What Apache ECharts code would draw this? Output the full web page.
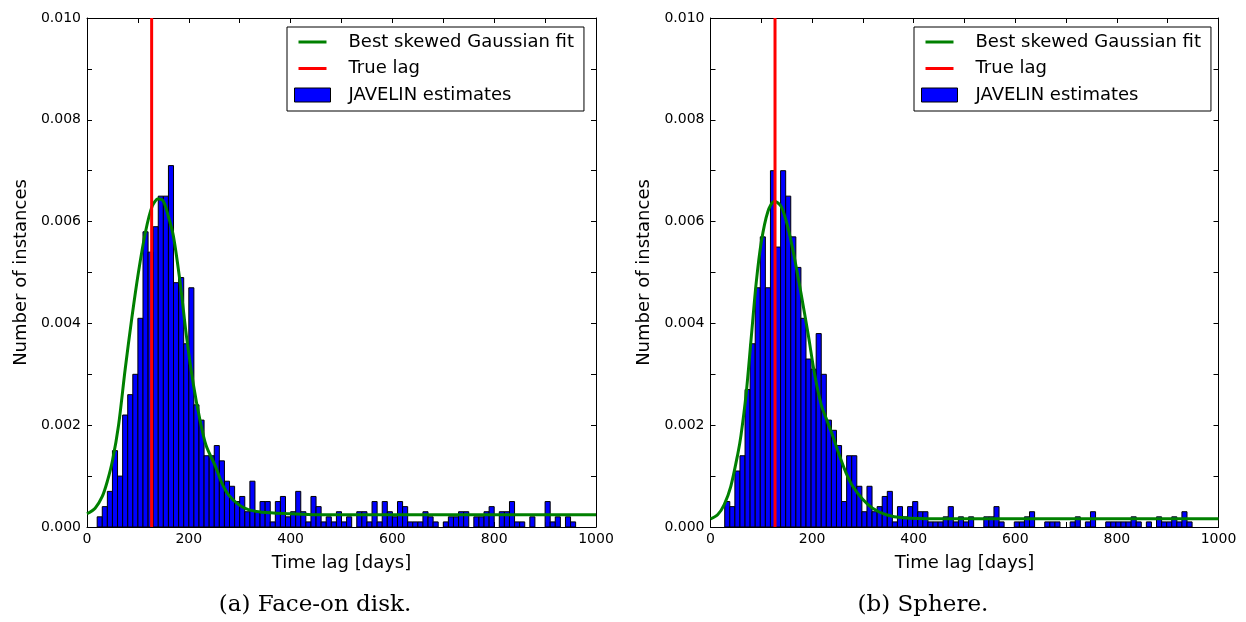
<!DOCTYPE html>
<html>
<head>
<meta charset="utf-8">
<script src="https://cdn.jsdelivr.net/npm/echarts@6/dist/echarts.min.js"></script>
<style>
  html, body { margin: 0; background: #fff; }
  #chart { width: 1246px; height: 622px; }
</style>
</head>
<body>
<div id="chart"></div>
<script>
// histogram bins (days) and normalised counts
const binWidth = 10;
const diskBinStart = 20;
const diskCounts = [
  0.0002, 0.0004, 0.0007, 0.0015, 0.0010, 0.0022, 0.0026, 0.0030, 0.0041, 0.0058,
  0.0054, 0.0059, 0.0065, 0.0065, 0.0071, 0.0048, 0.0049, 0.0036, 0.0047, 0.0024,
  0.0021, 0.0014, 0.0014, 0.0016, 0.0013, 0.0009, 0.0008, 0.0005, 0.0006, 0.0003,
  0.0009, 0.0003, 0.0005, 0.0005, 0.0001, 0.0005, 0.0006, 0.0002, 0.0003, 0.0007,
  0.0003, 0.0001, 0.0006, 0.0004, 0.0001, 0.0002, 0.0001, 0.0003, 0.0001, 0.0002,
  0, 0.0003, 0.0003, 0.0001, 0.0005, 0.0001, 0.0005, 0.0003, 0.0002, 0.0005,
  0.0004, 0.0001, 0.0001, 0.0001, 0.0003, 0.0002, 0.0001, 0, 0.0001, 0.0002,
  0.0002, 0.0003, 0.0003, 0, 0.0002, 0.0002, 0.0003, 0.0004, 0, 0.0003,
  0.0003, 0.0005, 0.0001, 0.0001, 0, 0.0002, 0, 0, 0.0005, 0.0001,
  0.0002, 0, 0.0002, 0.0001
];
const sphereBinStart = 28;
const sphereCounts = [
  0.0005, 0.0004, 0.0011, 0.0014, 0.0027, 0.0036, 0.0047, 0.0057, 0.0047, 0.0070,
  0.0055, 0.0070, 0.0065, 0.0057, 0.0051, 0.0041, 0.0033, 0.0031, 0.0038, 0.0030,
  0.0021, 0.0019, 0.0016, 0.0005, 0.0014, 0.0014, 0.0008, 0.0003, 0.0008, 0.0003,
  0.0004, 0.0006, 0.0007, 0.0001, 0.0004, 0.0002, 0.0004, 0.0005, 0.0003, 0.0003,
  0.0001, 0.0001, 0.0001, 0.0002, 0.0004, 0.0001, 0.0002, 0.0001, 0.0002, 0,
  0, 0.0002, 0.0002, 0.0004, 0.0001, 0, 0, 0.0001, 0.0001, 0.0002,
  0.0003, 0, 0, 0.0001, 0.0001, 0.0001, 0, 0, 0.0001, 0.0002,
  0, 0.0001, 0.0003, 0, 0, 0.0001, 0.0001, 0.0001, 0.0001, 0.0001,
  0.0002, 0.0001, 0, 0.0001, 0, 0.0002, 0.0001, 0.0001, 0.0002, 0.0001,
  0.0003, 0.0001
];

// skewed gaussian fit, sampled from the plotted curve
const diskFitLag = [0, 16, 30, 40, 50, 62, 75, 88, 101, 115, 128, 140, 150, 160, 170, 183, 196, 209, 222, 234, 252, 265, 278, 298, 317, 344, 400, 450, 1000];
const diskFitVal = [0.00026, 0.00037, 0.0006, 0.0009, 0.0013, 0.0020, 0.0031, 0.0041, 0.0050, 0.0058, 0.0063, 0.00645, 0.0064, 0.0061, 0.0057, 0.0048, 0.0037, 0.0028, 0.0021, 0.0016, 0.0012, 0.00086, 0.00063, 0.00044, 0.00034, 0.00029, 0.00026, 0.00024, 0.00024];
const sphereFitLag = [0, 14, 27, 40, 54, 60, 70, 80, 90, 100, 113, 126, 139, 152, 165, 178, 192, 205, 218, 229, 241, 254, 267, 280, 300, 319, 346, 379, 450, 1000];
const sphereFitVal = [0.00016, 0.00024, 0.00044, 0.0008, 0.00145, 0.0018, 0.0026, 0.0037, 0.0048, 0.0056, 0.0062, 0.0064, 0.0063, 0.0059, 0.0053, 0.0046, 0.0038, 0.0030, 0.0024, 0.0021, 0.00178, 0.0014, 0.00106, 0.0008, 0.00054, 0.00037, 0.00024, 0.00018, 0.00016, 0.00016];

const trueLag = 127;
const xMin = 0, xMax = 1000, xStep = 100;
const yMin = 0, yMax = 0.010, yStep = 0.001;

const FIT = 'Best skewed Gaussian fit';
const LAG = 'True lag';
const EST = 'JAVELIN estimates';

const chart = echarts.init(document.getElementById('chart'));

const toBins = (start, counts) => counts.map((v, i) => [start + i * binWidth, start + (i + 1) * binWidth, v]);
const toPairs = (xs, ys) => xs.map((x, i) => [x, ys[i]]);

const drawBin = (params, api) => {
  if (!api.value(2)) return null;
  const p0 = api.coord([api.value(0), api.value(2)]);
  const p1 = api.coord([api.value(1), 0]);
  return {
    type: 'rect',
    shape: { x: p0[0], y: p0[1], width: p1[0] - p0[0], height: p1[1] - p0[1] },
    style: { fill: '#0000ff', stroke: '#000', lineWidth: 1 }
  };
};

const font = 'DejaVu Sans';
const tick = { show: true, inside: true, length: 5, lineStyle: { color: '#000', width: 1 } };
const line = { show: true, onZero: false, lineStyle: { color: '#000', width: 1 } };

const xAxes = [], yAxes = [];
[0, 1].forEach(g => {
  xAxes.push({
    gridIndex: g, type: 'value', position: 'bottom', min: xMin, max: xMax, interval: xStep,
    name: 'Time lag [days]', nameLocation: 'middle', nameGap: 27,
    nameTextStyle: { fontFamily: font, fontSize: 18, color: '#000' },
    axisLine: line, axisTick: tick, splitLine: { show: false },
    axisLabel: {
      margin: 5, fontFamily: font, fontSize: 14, color: '#000',
      formatter: v => (v % 200 === 0 ? String(v) : '')
    }
  });
  xAxes.push({
    gridIndex: g, type: 'value', position: 'top', min: xMin, max: xMax, interval: xStep,
    axisLine: line, axisTick: tick, axisLabel: { show: false }, splitLine: { show: false }
  });
  yAxes.push({
    gridIndex: g, type: 'value', position: 'left', min: yMin, max: yMax, interval: yStep,
    name: 'Number of instances', nameLocation: 'middle', nameGap: 57,
    nameTextStyle: { fontFamily: font, fontSize: 18, color: '#000' },
    axisLine: line, axisTick: tick, splitLine: { show: false },
    axisLabel: {
      margin: 6, fontFamily: font, fontSize: 14, color: '#000',
      formatter: v => (Math.round(v * 1000) % 2 === 0 ? v.toFixed(3) : '')
    }
  });
  yAxes.push({
    gridIndex: g, type: 'value', position: 'right', min: yMin, max: yMax, interval: yStep,
    axisLine: line, axisTick: tick, axisLabel: { show: false }, splitLine: { show: false }
  });
});

const panels = [
  { bins: toBins(diskBinStart, diskCounts), fit: toPairs(diskFitLag, diskFitVal) },
  { bins: toBins(sphereBinStart, sphereCounts), fit: toPairs(sphereFitLag, sphereFitVal) }
];

const series = [];
panels.forEach((p, g) => {
  series.push({
    name: EST, type: 'custom', xAxisIndex: g * 2, yAxisIndex: g * 2,
    renderItem: drawBin, encode: { x: [0, 1], y: 2 },
    itemStyle: { color: '#0000ff', borderColor: '#000', borderWidth: 1 },
    data: p.bins, z: 2
  });
  series.push({
    name: FIT, type: 'line', xAxisIndex: g * 2, yAxisIndex: g * 2,
    symbol: 'none', smooth: 0.3, lineStyle: { color: '#008000', width: 3 },
    itemStyle: { color: '#008000' }, data: p.fit, z: 3, silent: true
  });
  series.push({
    name: LAG, type: 'line', xAxisIndex: g * 2, yAxisIndex: g * 2,
    symbol: 'none', lineStyle: { color: '#ff0000', width: 3 },
    itemStyle: { color: '#ff0000' }, data: [[trueLag, yMin], [trueLag, yMax]], z: 4, silent: true
  });
});

// short line handle, padded to the same width as the patch handle
const lineIcon = 'path://M0,0M36,3M4,0H32V3H4Z';
const legendFor = left => ({
  orient: 'vertical', left: left, top: 27,
  padding: [5, 10, 6, 7], itemGap: 6.5, itemWidth: 36, itemHeight: 14,
  backgroundColor: '#fff', borderColor: '#000', borderWidth: 1, borderRadius: 0,
  selectedMode: false,
  textStyle: { fontFamily: font, fontSize: 18, color: '#000', lineHeight: 20, padding: [0, 0, 0, 13] },
  data: [
    { name: FIT, icon: lineIcon, itemStyle: { color: '#008000', borderWidth: 0 } },
    { name: LAG, icon: lineIcon, itemStyle: { color: '#ff0000', borderWidth: 0 } },
    { name: EST, icon: 'rect', itemStyle: { color: '#0000ff', borderColor: '#000', borderWidth: 1 } }
  ]
});

chart.setOption({
  animation: false,
  backgroundColor: '#fff',
  grid: [
    { left: 87, top: 18, width: 509, height: 509 },
    { left: 710.5, top: 18, width: 508, height: 509 }
  ],
  xAxis: xAxes,
  yAxis: yAxes,
  legend: [legendFor(287), legendFor(914)],
  graphic: [
    { type: 'text', x: 315, y: 605, style: { text: '(a) Face-on disk.', font: '23px "DejaVu Serif"', fill: '#000', textAlign: 'center', textVerticalAlign: 'middle' } },
    { type: 'text', x: 923, y: 605, style: { text: '(b) Sphere.', font: '23px "DejaVu Serif"', fill: '#000', textAlign: 'center', textVerticalAlign: 'middle' } }
  ],
  series: series
});
</script>
</body>
</html>
